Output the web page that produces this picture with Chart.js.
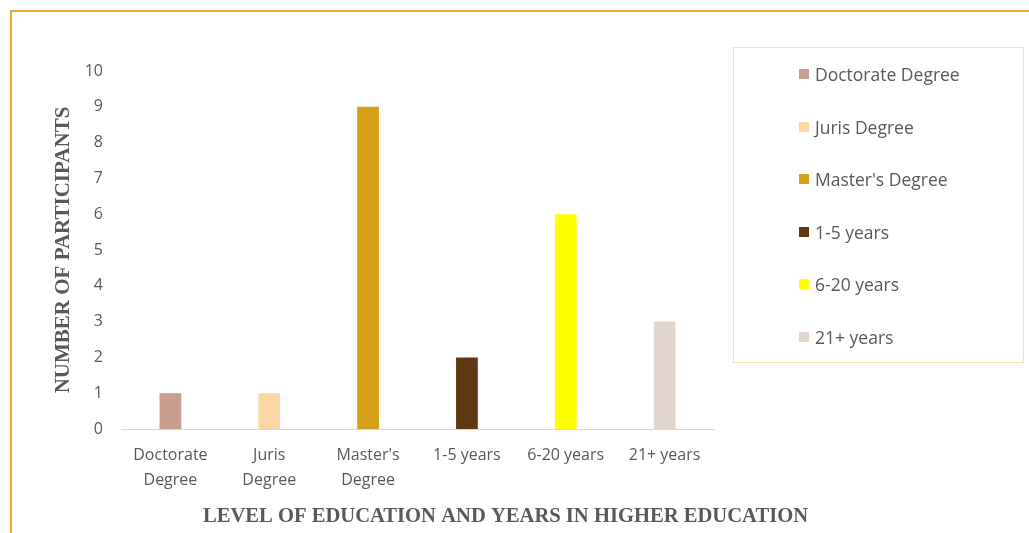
<!DOCTYPE html>
<html>
<head>
<meta charset="utf-8">
<script src="https://cdn.jsdelivr.net/npm/chart.js@4"></script>
<style>
    body { margin: 0; background: #fff; width: 1029px; height: 533px; overflow: hidden; position: relative; }
    #frame {
        position: absolute; left: 10px; top: 10px; right: 0; bottom: 0;
        border-top: 2px solid #f4a436; border-left: 2px solid #f4a436;
    }
    #chartBox { position: absolute; left: 12px; top: 12px; width: 1017px; height: 521px; }
    #legend {
        position: absolute; left: 733px; top: 47px; width: 291px; height: 316px;
        border: 1px solid #fcdcb0; box-sizing: border-box;
        font-family: "Open Sans", sans-serif; font-size: 17.5px; color: #595959;
    }
    #legend .item { position: absolute; left: 65px; height: 20px; line-height: 20px; display: flex; align-items: center; }
    #legend .sw { width: 10px; height: 10px; margin-right: 6px; }
</style>
</head>
<body>
<div id="frame"></div>
<div id="chartBox"><canvas id="grafico"></canvas></div>
<div id="legend"></div>

<script>
// Categorías y valores
const categorias = ['Doctorate Degree', 'Juris Degree', "Master's Degree", '1-5 years', '6-20 years', '21+ years'];
const etiquetasEje = [['Doctorate', 'Degree'], ['Juris', 'Degree'], ["Master's", 'Degree'], '1-5 years', '6-20 years', '21+ years'];
const participantes = [1, 1, 9, 2, 6, 3];
const colores = ['#c99e8e', '#fad7a5', '#d4a016', '#603913', '#ffff00', '#e2d5cd'];
const marcasY = [0, 1, 2, 3, 4, 5, 6, 7, 8, 9, 10];

const tituloX = 'LEVEL OF EDUCATION AND YEARS IN HIGHER EDUCATION';
const tituloY = 'NUMBER OF PARTICIPANTS';

// Título del eje X (desplazado a la derecha del área del gráfico)
const tituloEjeX = {
    id: 'tituloEjeX',
    afterDraw(chart) {
        const ctx = chart.ctx;
        const area = chart.chartArea;
        ctx.save();
        ctx.font = 'bold 20.6px "Liberation Serif", serif';
        ctx.fillStyle = '#595959';
        ctx.textAlign = 'center';
        ctx.textBaseline = 'middle';
        ctx.fillText(tituloX, (area.left + area.right) / 2 + 88, chart.height - 16);
        ctx.restore();
    }
};

function crearGrafico(canvasId) {
    const ctx = document.getElementById(canvasId);
    if (!ctx) return;

    return new Chart(ctx, {
        type: 'bar',
        data: {
            labels: etiquetasEje,
            datasets: [{
                label: 'Participantes',
                data: participantes,
                backgroundColor: colores,
                borderWidth: 0,
                barPercentage: 0.22,
                categoryPercentage: 1
            }]
        },
        options: {
            responsive: true,
            maintainAspectRatio: false,
            animation: false,
            layout: { padding: { left: 41, right: 315, top: 59, bottom: 41 } },
            plugins: {
                legend: { display: false },
                tooltip: { enabled: false }
            },
            scales: {
                x: {
                    grid: { display: false, drawTicks: false },
                    border: { display: true, color: '#d9d9d9', width: 1 },
                    afterFit(scale) { scale.height = 63; },
                    ticks: {
                        color: '#595959',
                        font: { family: '"Open Sans", sans-serif', size: 16, lineHeight: 1.56 },
                        padding: 14,
                        maxRotation: 0,
                        autoSkip: false
                    }
                },
                y: {
                    min: 0,
                    max: 10,
                    grid: { display: false, drawTicks: false },
                    border: { display: false },
                    afterFit(scale) { scale.width = 68; },
                    afterBuildTicks(scale) {
                        scale.ticks = marcasY.map(v => ({ value: v }));
                    },
                    ticks: {
                        color: '#595959',
                        font: { family: '"Open Sans", sans-serif', size: 16 },
                        padding: 18
                    },
                    title: {
                        display: true,
                        text: tituloY,
                        color: '#595959',
                        font: { family: '"Liberation Serif", serif', size: 21, weight: 'bold', lineHeight: 1 },
                        padding: { top: 0, bottom: 12 }
                    }
                }
            }
        },
        plugins: [tituloEjeX]
    });
}

// Leyenda en HTML a partir de los datos del gráfico
function crearLeyenda(chart) {
    const caja = document.getElementById('legend');
    const ds = chart.data.datasets[0];
    categorias.forEach((nombre, i) => {
        const item = document.createElement('div');
        item.className = 'item';
        item.style.top = (16 + i * 52.6) + 'px';
        const sw = document.createElement('span');
        sw.className = 'sw';
        sw.style.background = ds.backgroundColor[i];
        const txt = document.createElement('span');
        txt.textContent = nombre;
        item.appendChild(sw);
        item.appendChild(txt);
        caja.appendChild(item);
    });
}

const grafico = crearGrafico('grafico');
crearLeyenda(grafico);
</script>
</body>
</html>
